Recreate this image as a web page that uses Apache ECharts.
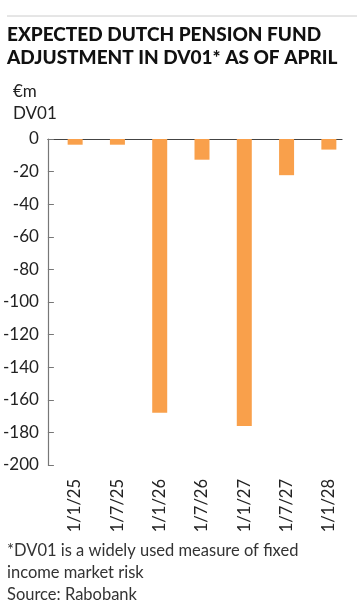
<!DOCTYPE html>
<html><head><meta charset="utf-8">
<script src="https://cdn.jsdelivr.net/npm/echarts@6/dist/echarts.min.js"></script>
<style>html,body{margin:0;padding:0;background:#fff}#c{width:358px;height:616px}</style>
</head><body><div id="c"></div>
<script>
const categories = ['1/1/25','1/7/25','1/1/26','1/7/26','1/1/27','1/7/27','1/1/28'];
const dv01 = [-3.5, -3.5, -168, -12.7, -176, -22.2, -6.5];
const yMin = -200, yMax = 0, yStep = 20;

const chart = echarts.init(document.getElementById('c'), null, {renderer:'canvas'});
const font = 'Lato, "Open Sans", sans-serif';
chart.setOption({
  animation:false,
  backgroundColor:'#fff',
  title:[
    {text:'EXPECTED DUTCH PENSION FUND\nADJUSTMENT IN DV01* AS OF APRIL', left:7, top:23, padding:0,
     textStyle:{fontFamily:font, fontWeight:900, fontSize:19, lineHeight:23, color:'#111'}},
    {text:'€m\nDV01', left:13, top:81, padding:0,
     textStyle:{fontFamily:font, fontWeight:'normal', fontSize:17, lineHeight:22, color:'#222'}},
    {text:'*DV01 is a widely used measure of fixed\nincome market risk\nSource: Rabobank', left:7, top:540, padding:0,
     textStyle:{fontFamily:font, fontWeight:'normal', fontSize:16.5, lineHeight:22, color:'#333'}}
  ],
  graphic:[{type:'line', shape:{x1:7,y1:16,x2:357,y2:16}, style:{stroke:'#ccc', lineWidth:1}}],
  grid:[
    {left:54, right:8, top:139, height:326, containLabel:false},
    {left:47, right:16, top:139, height:326, containLabel:false}
  ],
  xAxis:[
    {type:'category', gridIndex:0, data:categories, position:'bottom',
     axisLine:{show:false, onZero:false}, axisTick:{show:false},
     axisLabel:{rotate:90, margin:14, fontFamily:font, fontSize:16.5, color:'#222'}},
    {type:'category', gridIndex:1, data:categories, position:'top',
     axisLine:{show:true, onZero:false, lineStyle:{color:'#444', width:1.2}},
     axisTick:{show:false}, axisLabel:{show:false}}
  ],
  yAxis:[
    {type:'value', gridIndex:0, min:yMin, max:yMax, interval:yStep, show:false},
    {type:'value', gridIndex:1, min:yMin, max:yMax, interval:yStep,
     axisLine:{show:true, lineStyle:{color:'#777', width:1.2}},
     axisTick:{show:true, inside:true, length:6, lineStyle:{color:'#777'}},
     splitLine:{show:false},
     axisLabel:{margin:9, fontFamily:font, fontSize:17, color:'#222'}}
  ],
  series:[
    {type:'bar', xAxisIndex:0, yAxisIndex:0, data:dv01, barWidth:15,
     itemStyle:{color:'#F9A04B'}}
  ]
});
</script></body></html>
